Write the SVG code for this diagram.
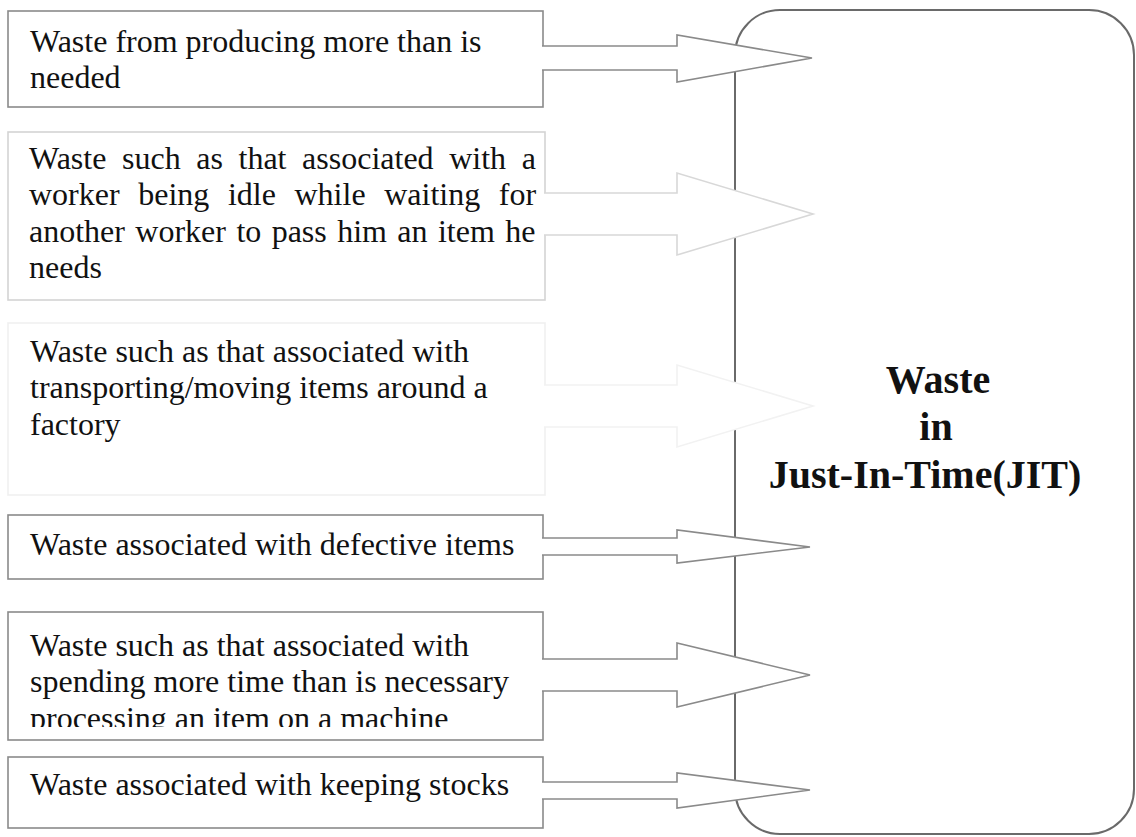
<svg xmlns="http://www.w3.org/2000/svg" width="1136" height="837" viewBox="0 0 1136 837">
<style>
  .bg { fill: #ffffff; }
  .box { fill: #ffffff; stroke: #8a8a8a; stroke-width: 1.6; }
  .box.light { stroke: #d4d4d4; }
  .box.faint { stroke: #f0f0f0; }
  .main { fill: #ffffff; stroke: #6a6a6a; stroke-width: 2; }
  .arrow { fill: #ffffff; stroke: #8a8a8a; stroke-width: 1.6; stroke-linejoin: miter; }
  .arrow.light { stroke: #d8d8d8; }
  .arrow.faint { stroke: #f2f2f2; }
  .t { font-family: "Liberation Serif", "Times New Roman", serif; font-size: 32px; fill: #111111; }
  .title { font-family: "Liberation Serif", "Times New Roman", serif; font-size: 40px; font-weight: bold; fill: #111111; text-anchor: middle; }
</style>
<defs>
  <clipPath id="clip5"><rect x="0" y="600" width="560" height="127"/></clipPath>
</defs>
<rect class="bg" x="0" y="0" width="1136" height="837"/>

<g id="jit">
  <rect class="main" x="735" y="10" width="399" height="824" rx="45" ry="45"/>
  <text class="title" x="938" y="393">Waste</text>
  <text class="title" x="936" y="440">in</text>
  <text class="title" x="925" y="488">Just-In-Time(JIT)</text>
</g>

<g id="box1">
  <rect class="box" x="8" y="11" width="535" height="96"/>
  <text class="t" x="30" y="52">Waste from producing more than is</text>
  <text class="t" x="30" y="88">needed</text>
</g>

<g id="box2">
  <rect class="box light" x="8" y="132" width="537" height="168"/>
  <text class="t" x="29" y="169" word-spacing="7.6">Waste such as that associated with a</text>
  <text class="t" x="29" y="205" word-spacing="10.6">worker being idle while waiting for</text>
  <text class="t" x="29" y="242" word-spacing="2.4">another worker to pass him an item he</text>
  <text class="t" x="29" y="278">needs</text>
</g>

<g id="box3">
  <rect class="box faint" x="8" y="323" width="537" height="172"/>
  <text class="t" x="30" y="362">Waste such as that associated with</text>
  <text class="t" x="30" y="398">transporting/moving items around a</text>
  <text class="t" x="30" y="435">factory</text>
</g>

<g id="box4">
  <rect class="box" x="8" y="515" width="535" height="64"/>
  <text class="t" x="30" y="555">Waste associated with defective items</text>
</g>

<g id="box5">
  <rect class="box" x="8" y="612" width="535" height="128"/>
  <text class="t" x="30" y="656">Waste such as that associated with</text>
  <text class="t" x="30" y="692">spending more time than is necessary</text>
  <text class="t" x="30" y="729" clip-path="url(#clip5)">processing an item on a machine</text>
</g>

<g id="box6">
  <rect class="box" x="8" y="757" width="535" height="71"/>
  <text class="t" x="30" y="795">Waste associated with keeping stocks</text>
</g>

<g id="connectors">
  <path class="arrow" d="M542,46 H677 V35 L812,58 L677,82 V70 H542"/>
  <path class="arrow light" d="M544,193 H677 V173 L813,214 L677,255 V235 H544"/>
  <path class="arrow faint" d="M544,385 H677 V365 L813,406 L677,447 V427 H544"/>
  <path class="arrow" d="M542,538 H677 V530 L810,547 L677,563 V555 H542"/>
  <path class="arrow" d="M542,659 H677 V643 L810,675 L677,707 V691 H542"/>
  <path class="arrow" d="M542,782 H677 V773 L810,790 L677,808 V799 H542"/>
</g>
</svg>
